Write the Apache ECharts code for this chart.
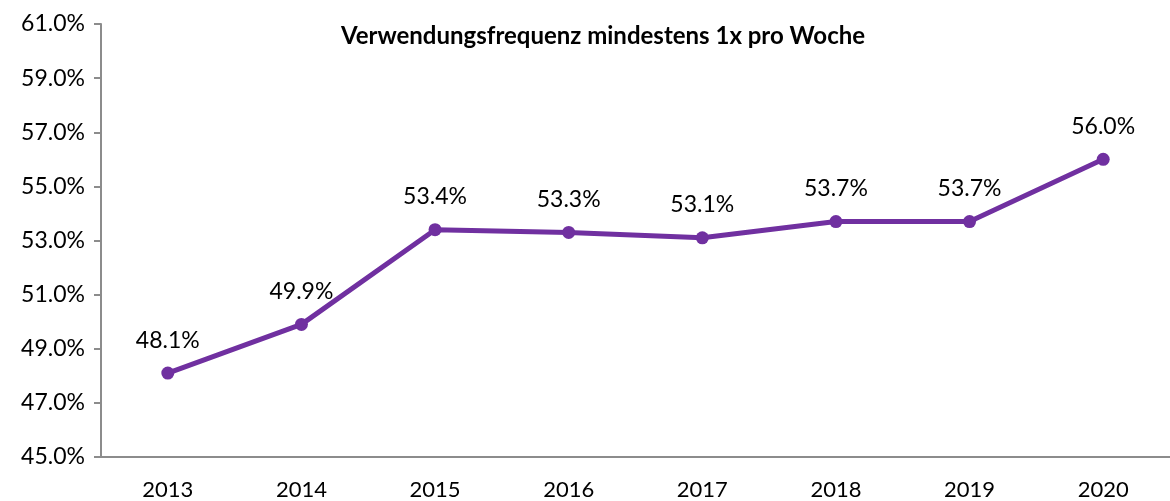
<!DOCTYPE html>
<html>
<head>
<meta charset="utf-8">
<script src="https://cdn.jsdelivr.net/npm/echarts@6/dist/echarts.min.js"></script>
<style>
  html, body { margin: 0; padding: 0; background: #fff; }
  #chart { width: 1170px; height: 501px; }
</style>
</head>
<body>
<div id="chart"></div>
<script>
// Daten
const years = ['2013', '2014', '2015', '2016', '2017', '2018', '2019', '2020']
const usage = [48.1, 49.9, 53.4, 53.3, 53.1, 53.7, 53.7, 56.0]
const titleText = 'Verwendungsfrequenz mindestens 1x pro Woche'

const font = 'Lato, "Open Sans", sans-serif'
const axisGray = '#8c8c8c'

const chart = echarts.init(document.getElementById('chart'))

chart.setOption({
  animation: false,
  title: {
    text: titleText,
    left: 598,
    textAlign: 'center',
    top: 19,
    textStyle: { fontFamily: font, fontSize: 24, fontWeight: 'bold', color: '#000' }
  },
  grid: { left: 101, right: -4, top: 24, bottom: 44 },
  xAxis: {
    type: 'category',
    data: years,
    boundaryGap: true,
    axisLine: { lineStyle: { color: axisGray, width: 2 } },
    axisTick: { length: 7, lineStyle: { color: axisGray, width: 2 } },
    axisLabel: { fontFamily: font, fontSize: 22, color: '#000', margin: 22 }
  },
  yAxis: {
    type: 'value',
    min: 45,
    max: 61,
    interval: 2,
    splitLine: { show: false },
    axisLine: { show: true, lineStyle: { color: axisGray, width: 2 } },
    axisTick: { show: true, length: 7, lineStyle: { color: axisGray, width: 2 } },
    axisLabel: {
      fontFamily: font, fontSize: 23, color: '#000', margin: 16,
      formatter: v => v.toFixed(1) + '%'
    }
  },
  series: [{
    type: 'line',
    data: usage,
    color: '#7030a0',
    lineStyle: { width: 5 },
    symbol: 'circle',
    symbolSize: 13,
    label: {
      show: true,
      position: 'top',
      distance: 15,
      fontFamily: font,
      fontSize: 23,
      color: '#000',
      formatter: p => p.value.toFixed(1) + '%'
    }
  }]
})
</script>
</body>
</html>
